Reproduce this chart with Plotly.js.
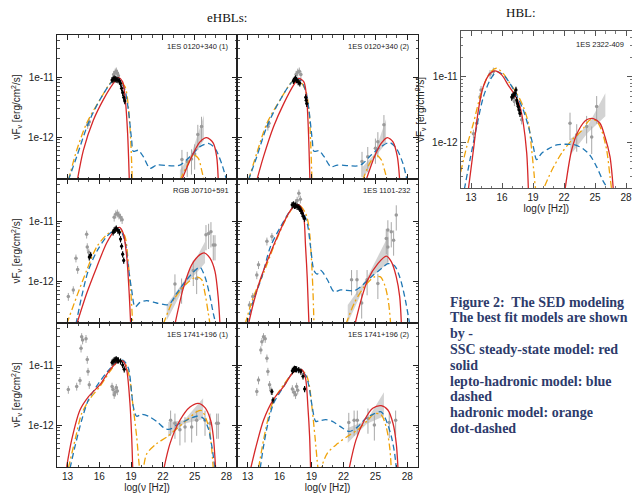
<!DOCTYPE html>
<html><head><meta charset="utf-8">
<script src="https://cdn.plot.ly/plotly-3.0.1.min.js"></script>
<style>html,body{margin:0;padding:0;background:#fff}#chart{width:632px;height:495px}</style>
</head><body><div id="chart"></div>
<script>
// ---------- ticks / labels ----------
const xTicks = [13,16,19,22,25,28];
const yTicks = [1e-12, 1e-11];
const yTickText = ["1e-12","1e-11"];
const yMinor = [2e-13,3e-13,4e-13,5e-13,6e-13,7e-13,8e-13,9e-13,2e-12,3e-12,4e-12,5e-12,6e-12,7e-12,8e-12,9e-12,2e-11,3e-11,4e-11,5e-11];
const panelNames = ["1ES 0120+340 (1)","1ES 0120+340 (2)","RGB J0710+591","1ES 1101-232","1ES 1741+196 (1)","1ES 1741+196 (2)","1ES 2322-409"];
const captionLines = ["Figure 2:  The SED modeling","The best fit models are shown","by -","SSC steady-state model: red","solid","lepto-hadronic model: blue","dashed","hadronic model: orange","dot-dashed"];

// ---------- Panel A : 1ES 0120+340 (1) ----------
const A_redX = [13.92,14.49,15.43,16.38,17.32,17.79,18.2,18.45,18.67,18.83,null,23.77,24.72,25.5,26.13,26.76,27.08,27.23];
const A_redY = [1.9e-13,6.0e-13,1.9e-12,4.2e-12,7.8e-12,9.8e-12,8.3e-12,4.2e-12,1.15e-12,1.9e-13,null,1.9e-13,4.7e-13,8.3e-13,9.8e-13,7.9e-13,4.7e-13,1.9e-13];
const A_blueX = [13.07,13.86,14.96,16.06,17.32,17.79,18.42,18.74,19.05,19.2,19.68,20.15,20.78,21.41,22.99,23.61,24.56,25.5,26.29,26.92,27.55,28.02];
const A_blueY = [1.9e-13,4.7e-13,1.7e-12,4.2e-12,8.9e-12,9.5e-12,6.0e-12,2.8e-12,8.9e-13,5.8e-13,6.0e-13,4.7e-13,3.0e-13,3.4e-13,3.3e-13,3.4e-13,4.7e-13,6.9e-13,7.8e-13,6.5e-13,3.6e-13,1.9e-13];
const A_orangeX = [13.07,13.86,14.8,16.06,17.16,17.79,18.42,18.74,18.96,19.11,null,23.61,24.24,24.87,25.35,25.66,25.88];
const A_orangeY = [1.9e-13,6.0e-13,1.7e-12,4.2e-12,8.3e-12,8.9e-12,6.9e-12,3.2e-12,8.9e-13,1.9e-13,null,1.9e-13,3.2e-13,5.0e-13,4.4e-13,2.8e-13,1.9e-13];
const A_bfX = [23.61,24.72,25.88], A_bfLo = [1.9e-13,4.4e-13,8.9e-13], A_bfHi = [2.8e-13,5.4e-13,2.3e-12];
const A_blackX = [17.2,17.3,17.4,17.5,17.6,17.75,17.9,18.0,18.1,18.2,18.3,18.4];
const A_blackY = [8.9e-12,9.2e-12,9.5e-12,9.3e-12,9.1e-12,8.9e-12,8.5e-12,7.8e-12,6.5e-12,5.5e-12,4.6e-12,4.0e-12];
const A_grayX = [14.9,15.05,17.35,17.5,17.6,17.7,17.8];
const A_grayY = [1.6e-12,1.8e-12,1.1e-11,1.2e-11,1.25e-11,1.15e-11,1.05e-11];
const A_gamX = [23.8,24.3,24.7,25.0,25.3,25.65];
const A_gamY = [4.2e-13,3.9e-13,4.3e-13,5.2e-13,1.1e-12,1.5e-12];

// ---------- Panel B : 1ES 0120+340 (2) ----------
const B_redX = [13.86,14.49,15.44,16.39,17.33,17.81,18.28,18.53,18.69,18.85,null,24.12,24.91,25.54,26.11,26.65,27.06,27.28];
const B_redY = [1.9e-13,4.7e-13,1.5e-12,3.6e-12,7.4e-12,9.5e-12,8.3e-12,4.7e-12,1.5e-12,1.9e-13,null,1.9e-13,4.7e-13,7.8e-13,9.8e-13,8.3e-13,4.7e-13,1.9e-13];
const B_blueX = [13.07,13.86,14.81,16.07,17.17,17.81,18.44,18.76,19.07,19.23,19.7,20.18,20.81,21.44,23.33,23.81,24.6,25.54,26.33,26.96,27.59,27.97];
const B_blueY = [1.9e-13,4.7e-13,1.5e-12,4.2e-12,8.3e-12,9.5e-12,6.0e-12,2.8e-12,8.9e-13,5.8e-13,5.9e-13,4.7e-13,3.2e-13,3.4e-13,3.3e-13,3.6e-13,5.0e-13,6.9e-13,8.1e-13,6.5e-13,3.6e-13,1.9e-13];
const B_orangeX = [13.07,13.86,14.81,16.07,17.17,17.81,18.44,18.76,18.91,19.04,null,23.81,24.44,25.07,25.54,25.86,26.11];
const B_orangeY = [1.9e-13,5.4e-13,1.7e-12,4.2e-12,8.3e-12,8.9e-12,6.0e-12,2.8e-12,8.9e-13,1.9e-13,null,1.9e-13,3.6e-13,5.0e-13,4.2e-13,2.8e-13,1.9e-13];
const B_bfX = [23.81,24.9,26.0], B_bfLo = [1.9e-13,4.5e-13,7.9e-13], B_bfHi = [3.2e-13,5.2e-13,2.0e-12];
const B_blackX = [17.3,17.4,17.5,17.6,17.75,17.9,18.45,18.5,18.55];
const B_blackY = [8.7e-12,9.1e-12,9.5e-12,8.9e-12,8.3e-12,7.9e-12,4.6e-12,4.1e-12,3.6e-12];
const B_grayX = [14.9,15.0,17.55,17.7,17.85,18.0];
const B_grayY = [1.5e-12,1.7e-12,1.1e-11,1.2e-11,1.25e-11,1.1e-11];
const B_gamX = [23.74,24.28,25.0,25.23,25.8];
const B_gamY = [3.9e-13,4.7e-13,6.5e-13,8.3e-13,1.6e-12];

// ---------- Panel C : RGB J0710+591 ----------
const C_redX = [13.86,14.8,15.75,16.69,17.48,17.89,18.26,18.58,18.8,18.96,null,23.14,23.93,24.72,25.5,25.91,26.45,26.92,27.23,27.39];
const C_redY = [1.9e-13,6.2e-13,1.7e-12,4.3e-12,7.1e-12,7.8e-12,6.2e-12,2.6e-12,7.1e-13,1.9e-13,null,1.9e-13,7.6e-13,1.86e-12,2.75e-12,2.95e-12,2.4e-12,1.45e-12,5.2e-13,1.9e-13];
const C_blueX = [13.79,14.33,14.96,15.75,16.69,17.48,17.95,18.42,18.74,19.05,19.37,19.84,20.47,21.41,22.36,22.67,23.3,24.25,25.04,25.5,25.98,26.45,26.76,27.01];
const C_blueY = [1.9e-13,5.5e-13,1.5e-12,3.1e-12,5.5e-12,7.2e-12,7.1e-12,4.6e-12,1.7e-12,7.1e-13,3.7e-13,4.4e-13,4.7e-13,4.3e-13,4.0e-13,4.2e-13,6.2e-13,1.05e-12,1.5e-12,1.7e-12,1.17e-12,5.5e-13,2.9e-13,1.9e-13];
const C_orangeX = [12.91,13.86,14.8,15.75,16.69,17.48,17.95,18.42,18.74,18.96,19.15,null,22.04,22.99,24.25,25.19,25.66,25.98,26.29,26.45];
const C_orangeY = [1.9e-13,5.5e-13,1.5e-12,3.7e-12,5.9e-12,7.1e-12,7.2e-12,5.5e-12,1.95e-12,7.1e-13,1.9e-13,null,1.9e-13,4.8e-13,9.1e-13,1.17e-12,1.05e-12,6.2e-13,2.9e-13,1.9e-13];
const C_bfX = [22.36,24.0,25.98], C_bfLo = [2.2e-13,7.9e-13,2.0e-12], C_bfHi = [4.0e-13,1.0e-12,4.5e-12];
const C_blackX = [15.05,15.18,17.3,17.4,17.5,17.6,17.75,17.9,18.0,18.1,18.2,18.3];
const C_blackY = [2.5e-12,2.7e-12,6.5e-12,7.0e-12,7.2e-12,7.5e-12,7.0e-12,6.5e-12,5.0e-12,3.8e-12,2.8e-12,2.2e-12];
const C_grayX = [13.07,13.54,13.79,13.95,14.8,14.86,15.0,17.4,17.55,17.7,17.85,18.0,18.15];
const C_grayY = [5.5e-13,7.1e-13,2.4e-12,1.55e-12,6.0e-12,3.7e-12,3.0e-12,1.15e-11,1.3e-11,1.35e-11,1.25e-11,1.15e-11,1.05e-11];
const C_gamX = [23.14,23.77,24.87,25.19,26.07,26.32,26.54,26.76,26.92];
const C_gamY = [8.9e-13,7.6e-13,1.5e-12,1.1e-12,5.9e-12,6.2e-12,6.6e-12,4.0e-12,4.0e-12];

// ---------- Panel D : 1ES 1101-232 ----------
const D_redX = [13.07,13.55,14.18,15.13,16.07,16.86,17.33,17.81,18.22,18.44,18.6,18.76,null,23.08,23.65,24.28,25.23,26.02,26.49,26.96,27.28,27.44];
const D_redY = [1.9e-13,4.3e-13,1.05e-12,2.9e-12,7.1e-12,1.35e-11,1.74e-11,1.86e-11,1.35e-11,3.7e-12,1.1e-12,1.9e-13,null,1.9e-13,4.8e-13,1.05e-12,1.95e-12,2.6e-12,2.1e-12,1.17e-12,5.5e-13,1.9e-13];
const D_blueX = [12.92,13.55,14.34,15.13,16.07,17.02,17.49,18.12,18.6,18.91,19.23,19.54,19.86,20.49,21.12,21.75,23.02,23.65,24.6,25.54,26.17,26.8,27.28,27.75,28.22];
const D_blueY = [1.9e-13,4.8e-13,1.17e-12,3.7e-12,7.9e-12,1.5e-11,1.78e-11,1.5e-11,9.1e-12,3.7e-12,1.5e-12,1.3e-12,1.5e-12,1.05e-12,6.6e-13,7.1e-13,6.9e-13,8.1e-13,1.17e-12,1.6e-12,1.95e-12,1.8e-12,1.17e-12,5.5e-13,1.9e-13];
const D_orangeX = [12.76,13.55,14.49,15.44,16.39,17.33,17.81,18.44,18.76,18.98,19.13,19.23,null,22.23,23.02,23.97,24.91,25.48,25.92,26.24,26.43];
const D_orangeY = [1.9e-13,5.5e-13,1.35e-12,3.7e-12,9.1e-12,1.74e-11,1.86e-11,1.35e-11,7.9e-12,2.5e-12,7.1e-13,1.9e-13,null,1.9e-13,4.3e-13,8.1e-13,1.17e-12,1.17e-12,8.1e-13,4.3e-13,1.9e-13];
const D_bfX = [22.4,24.2,26.2], D_bfLo = [2.0e-13,1.0e-12,2.0e-12], D_bfHi = [4.0e-13,1.12e-12,5.6e-12];
const D_blackX = [17.18,17.3,17.4,17.5,17.65,17.8,17.9,18.0,18.12,18.22,18.34];
const D_blackY = [1.86e-11,1.9e-11,1.8e-11,1.82e-11,1.74e-11,1.7e-11,1.6e-11,1.5e-11,1.35e-11,1.2e-11,1.1e-11];
const D_grayX = [13.17,13.48,13.86,14.02,14.81,15.28,17.5,17.65,17.81,17.95];
const D_grayY = [4.0e-13,5.5e-13,1.26e-12,1.86e-12,4.6e-12,5.5e-12,2.0e-11,2.2e-11,2.9e-11,2.3e-11];
const D_gamX = [22.76,23.27,23.71,24.22,25.23,26.02,26.17,26.17,26.49,26.71,26.96];
const D_gamY = [1.05e-12,1.05e-12,4.3e-13,1.05e-12,9.1e-13,5.1e-12,7.1e-12,3.7e-12,6.6e-12,4.8e-12,1.26e-11];

// ---------- Panel E : 1ES 1741+196 (1) ----------
const E_redX = [12.91,13.38,14.17,14.96,16.06,17.0,17.79,18.26,18.58,18.89,19.05,19.15,null,22.1,22.67,23.61,24.56,25.35,25.98,26.51,26.76,26.98];
const E_redY = [2.0e-13,5.6e-13,1.78e-12,2.95e-12,4.7e-12,8.3e-12,1.15e-11,1.15e-11,8.3e-12,2.3e-12,6.5e-13,1.9e-13,null,1.9e-13,4.9e-13,1.2e-12,2.0e-12,2.3e-12,1.95e-12,1.2e-12,6.5e-13,1.9e-13];
const E_blueX = [13.23,13.7,14.33,14.96,15.91,17.0,17.79,18.26,18.74,19.05,19.21,19.52,20.0,20.62,21.41,22.2,22.67,23.3,24.24,25.19,25.82,26.29,26.6,26.92];
const E_blueY = [1.9e-13,4.4e-13,1.2e-12,2.6e-12,4.9e-12,8.7e-12,1.15e-11,1.2e-11,8.9e-12,3.4e-12,2.0e-12,1.4e-12,1.5e-12,1.4e-12,1.15e-12,8.7e-13,8.5e-13,1.0e-12,1.2e-12,1.4e-12,1.3e-12,8.7e-13,4.7e-13,1.9e-13];
const E_orangeX = [13.07,13.7,14.33,15.12,16.06,17.0,17.79,18.33,18.83,19.15,19.52,19.8,19.95,20.15,20.47,21.41,22.36,23.3,24.24,25.19,25.66,26.13,26.45,26.76];
const E_orangeY = [1.9e-13,5.6e-13,1.55e-12,2.75e-12,4.4e-12,7.8e-12,1.15e-11,1.15e-11,6.5e-12,2.3e-12,6.5e-13,1.9e-13,1.4e-13,1.9e-13,3.3e-13,4.9e-13,6.3e-13,8.7e-13,1.2e-12,1.66e-12,1.74e-12,1.2e-12,7.2e-13,1.9e-13];
const E_bfX = [22.5,24.0,25.8], E_bfLo = [6.3e-13,1.05e-12,1.26e-12], E_bfHi = [1.12e-12,1.2e-12,2.8e-12];
const E_blackX = [17.2,17.3,17.4,17.5,17.6,17.7,17.8,18.0,18.2,18.35];
const E_blackY = [1.1e-11,1.15e-11,1.2e-11,1.22e-11,1.25e-11,1.2e-11,1.2e-11,1.15e-11,1.0e-11,8.5e-12];
const E_grayX = [13.07,13.86,14.17,14.27,14.33,14.42,14.74,14.86,14.93,15.05,17.2,17.3,17.4,17.5,17.6,17.7];
const E_grayY = [3.9e-12,4.4e-12,5.5e-12,1.9e-11,2.95e-11,2.6e-11,2.75e-11,1.23e-11,7.8e-12,4.7e-12,4.4e-12,3.9e-12,3.2e-12,3.5e-12,4.2e-12,3.7e-12];
const E_gamX = [22.73,23.14,23.61,24.09,24.72,25.19,25.98,26.45,27.08,27.23];
const E_gamY = [1.2e-12,1.07e-12,8.3e-13,9.3e-13,9.3e-13,1.2e-12,1.2e-12,1.07e-12,1.07e-12,1.07e-12];

// ---------- Panel F : 1ES 1741+196 (2) ----------
const F_redX = [13.29,13.86,14.49,15.38,16.39,17.18,17.65,18.12,18.44,18.66,18.82,18.91,null,22.54,23.17,23.96,24.75,25.54,26.17,26.65,26.96,27.12];
const F_redY = [1.9e-13,4.9e-13,1.2e-12,2.6e-12,4.4e-12,7.2e-12,8.3e-12,8.3e-12,6.0e-12,2.0e-12,6.5e-13,1.9e-13,null,1.9e-13,5.6e-13,1.2e-12,1.9e-12,2.1e-12,1.78e-12,1.07e-12,4.9e-13,1.9e-13];
const F_blueX = [14.18,14.49,14.97,15.44,16.39,17.18,17.81,18.44,18.76,19.07,19.39,19.7,20.33,20.96,21.75,22.54,23.33,24.12,24.91,25.54,26.01,26.49,26.8,26.96];
const F_blueY = [1.9e-13,4.4e-13,1.2e-12,2.3e-12,4.4e-12,7.2e-12,8.1e-12,6.8e-12,4.4e-12,2.0e-12,1.15e-12,1.17e-12,1.23e-12,1.15e-12,9.3e-13,7.8e-13,9.3e-13,1.3e-12,1.55e-12,1.66e-12,1.2e-12,6.5e-13,3.4e-13,1.9e-13];
const F_orangeX = [14.02,14.49,14.97,15.44,16.39,17.18,17.81,18.44,18.76,19.07,19.32,19.61,19.75,19.9,20.49,21.44,22.39,23.33,24.28,24.91,25.54,26.01,26.33,26.49];
const F_orangeY = [1.9e-13,5.6e-13,1.4e-12,2.6e-12,4.7e-12,7.2e-12,8.3e-12,7.2e-12,4.9e-12,1.78e-12,6.5e-13,1.9e-13,1.4e-13,1.9e-13,3.4e-13,4.9e-13,6.5e-13,8.3e-13,1.2e-12,1.55e-12,1.48e-12,9.3e-13,4.4e-13,1.9e-13];
const F_bfX = [22.4,24.2,25.8], F_bfLo = [5.0e-13,1.05e-12,1.4e-12], F_bfHi = [8.9e-13,1.2e-12,3.5e-12];
const F_blackX = [15.28,15.38,17.2,17.3,17.4,17.5,17.6,17.8,18.0,18.2,18.35];
const F_blackY = [3.6e-12,2.6e-12,8.0e-12,8.4e-12,8.7e-12,8.6e-12,8.5e-12,8.3e-12,7.8e-12,6.5e-12,4.0e-12];
const F_grayX = [13.86,14.02,14.24,14.34,14.49,14.65,14.81,14.9,15.06,15.19,17.2,17.35,17.5,17.6,17.7];
const F_grayY = [3.6e-12,5.6e-12,1.78e-11,2.45e-11,2.95e-11,2.75e-11,1.3e-11,7.8e-12,4.7e-12,3.8e-12,4.0e-12,3.5e-12,3.2e-12,4.4e-12,3.8e-12];
const F_gamX = [22.5,23.0,23.3,24.3,24.9,26.3,26.9];
const F_gamY = [1.1e-12,1.2e-12,1.2e-12,1.3e-12,1.0e-12,1.1e-12,1.2e-12];

// ---------- Panel G : 1ES 2322-409 (HBL) ----------
const G_redX = [12.74,13.23,13.71,14.19,14.84,15.32,15.97,16.61,17.26,17.74,18.06,18.39,18.55,null,22.1,22.74,23.39,24.19,24.84,25.48,25.97,26.45,26.77];
const G_redY = [1.9e-13,7.6e-13,3.1e-12,7.1e-12,1.12e-11,1.23e-11,1.07e-11,7.4e-12,5.2e-12,3.5e-12,1.95e-12,6.8e-13,1.9e-13,null,1.9e-13,7.6e-13,1.5e-12,2.2e-12,2.3e-12,1.95e-12,1.2e-12,6.0e-13,1.9e-13];
const G_blueX = [12.35,12.9,13.55,14.19,14.84,15.48,16.13,16.77,17.42,18.06,18.55,19.03,19.35,19.84,20.48,21.29,22.1,23.06,23.87,24.52,25.16,25.81,26.29];
const G_blueY = [1.9e-13,5.4e-13,1.74e-12,4.9e-12,8.9e-12,1.2e-11,1.07e-11,7.9e-12,5.2e-12,3.1e-12,1.74e-12,8.5e-13,5.4e-13,6.8e-13,7.9e-13,9.1e-13,9.3e-13,9.1e-13,7.9e-13,6.3e-13,4.2e-13,2.5e-13,1.9e-13];
const G_orangeX = [12.0,12.58,13.23,13.87,14.52,15.0,15.48,16.13,16.77,17.42,18.06,18.55,18.87,19.1,19.26,19.6,20.0,20.81,21.77,22.74,23.71,24.52,25.16,25.65,26.13,26.45,26.61];
const G_orangeY = [3.5e-13,8.5e-13,1.95e-12,4.9e-12,9.5e-12,1.23e-11,1.35e-11,1.12e-11,7.9e-12,5.6e-12,3.5e-12,1.95e-12,7.6e-13,3.3e-13,1.9e-13,1.3e-13,1.9e-13,3.7e-13,6.8e-13,1.07e-12,1.5e-12,2.2e-12,2.1e-12,1.5e-12,7.6e-13,3.0e-13,1.9e-13];
const G_bfX = [22.6,24.3,26.0], G_bfLo = [6.3e-13,1.4e-12,2.5e-12], G_bfHi = [1.12e-12,1.78e-12,5.6e-12];
const G_blackX = [16.94,17.05,17.15,17.26,17.35,17.42,17.5,17.58,17.66,17.74];
const G_blackY = [4.9e-12,5.1e-12,5.3e-12,5.6e-12,6.3e-12,4.4e-12,3.9e-12,3.5e-12,3.1e-12,2.75e-12];
const G_grayX = [13.23,13.55,13.87,13.97,14.84,15.16,17.2,17.5,17.9];
const G_grayY = [1.35e-12,1.95e-12,4.9e-12,6.3e-12,1.1e-11,1.2e-11,4.2e-12,3.6e-12,2.2e-12];
const G_gamX = [22.58,23.23,24.19,24.68,25.16];
const G_gamY = [1.95e-12,1.3e-12,1.74e-12,1.2e-12,3.5e-12];

// ---------- build ----------
const panelData = [
  [A_redX,A_redY,A_blueX,A_blueY,A_orangeX,A_orangeY,A_bfX,A_bfLo,A_bfHi,A_blackX,A_blackY,A_grayX,A_grayY,A_gamX,A_gamY],
  [B_redX,B_redY,B_blueX,B_blueY,B_orangeX,B_orangeY,B_bfX,B_bfLo,B_bfHi,B_blackX,B_blackY,B_grayX,B_grayY,B_gamX,B_gamY],
  [C_redX,C_redY,C_blueX,C_blueY,C_orangeX,C_orangeY,C_bfX,C_bfLo,C_bfHi,C_blackX,C_blackY,C_grayX,C_grayY,C_gamX,C_gamY],
  [D_redX,D_redY,D_blueX,D_blueY,D_orangeX,D_orangeY,D_bfX,D_bfLo,D_bfHi,D_blackX,D_blackY,D_grayX,D_grayY,D_gamX,D_gamY],
  [E_redX,E_redY,E_blueX,E_blueY,E_orangeX,E_orangeY,E_bfX,E_bfLo,E_bfHi,E_blackX,E_blackY,E_grayX,E_grayY,E_gamX,E_gamY],
  [F_redX,F_redY,F_blueX,F_blueY,F_orangeX,F_orangeY,F_bfX,F_bfLo,F_bfHi,F_blackX,F_blackY,F_grayX,F_grayY,F_gamX,F_gamY],
  [G_redX,G_redY,G_blueX,G_blueY,G_orangeX,G_orangeY,G_bfX,G_bfLo,G_bfHi,G_blackX,G_blackY,G_grayX,G_grayY,G_gamX,G_gamY]
];

const W = 632, H = 495;
// pixel boxes [left, right, top, bottom]
const boxes = [[57,237,35,179],[237,418,35,179],[57,237,179,323],[237,418,179,323],[57,237,323,467],[237,418,323,467],[460.7,632,31,188]];
const xRanges = [[12,29],[12,29],[12,29],[12,29],[12,29],[12,29],[12,28.58]];
const RED = '#d62728', BLUE = '#1f77b4', ORANGE = '#f0a30a';
const traces = [];
const layout = {width:W, height:H, margin:{l:0,r:0,t:0,b:0}, paper_bgcolor:'#fff', plot_bgcolor:'#fff', showlegend:false, annotations:[]};
const tickFont = {family:'Liberation Sans, Arial, sans-serif', size:10, color:'#222'};

panelData.forEach((d, i) => {
  const n = i + 1, sx = n === 1 ? '' : String(n);
  const xa = 'x' + sx, ya = 'y' + sx;
  const [rx,ry,bx,by,ox,oy,fx,flo,fhi,kx,ky,gx,gy,mx,my] = d;
  traces.push({x:[fx[0],fx[1],fx[2],fx[2],fx[1],fx[0]], y:[flo[0],flo[1],flo[2],fhi[2],fhi[1],fhi[0]], xaxis:xa, yaxis:ya, type:'scatter', mode:'lines', fill:'toself', fillcolor:'rgba(175,175,175,0.55)', line:{width:0}, hoverinfo:'skip'});
  traces.push({x:gx, y:gy, xaxis:xa, yaxis:ya, type:'scatter', mode:'markers', marker:{color:'#9a9a9a', size:3.5}, error_y:{type:'percent', value:15, color:'#a8a8a8', thickness:1, width:0}});
  traces.push({x:mx, y:my, xaxis:xa, yaxis:ya, type:'scatter', mode:'markers', marker:{color:'#9a9a9a', size:3.5}, error_y:{type:'percent', value:45, color:'#a8a8a8', thickness:1, width:0}});
  traces.push({x:ox, y:oy, xaxis:xa, yaxis:ya, type:'scatter', mode:'lines', line:{color:ORANGE, width:1.3, dash:'7px,3px,2px,3px', shape:'spline', smoothing:0.8}});
  traces.push({x:bx, y:by, xaxis:xa, yaxis:ya, type:'scatter', mode:'lines', line:{color:BLUE, width:1.3, dash:'6px,3.5px', shape:'spline', smoothing:0.8}});
  traces.push({x:rx, y:ry, xaxis:xa, yaxis:ya, type:'scatter', mode:'lines', line:{color:RED, width:1.3, shape:'spline', smoothing:0.8}});
  traces.push({x:kx, y:ky, xaxis:xa, yaxis:ya, type:'scatter', mode:'markers', marker:{color:'#000', size:3.2}, error_y:{type:'percent', value:12, color:'#000', thickness:1.2, width:0}});

  const b = boxes[i];
  const hbl = (i === 6);
  const leftCol = hbl || (i % 2 === 0);
  const bottom = hbl || i >= 4;
  const frame = hbl ? '#555' : '#222';
  const xaxis = {
    domain:[b[0]/W, b[1]/W], range:xRanges[i], anchor:ya,
    tickmode:'array', tickvals:xTicks, ticks:'inside', ticklen:5, tickwidth:1, tickcolor:frame,
    minor:{tickmode:'linear', tick0:12, dtick:1, ticks:'inside', ticklen:2.5, tickwidth:0.8, tickcolor:frame, showgrid:false},
    showline:true, linecolor:frame, linewidth:hbl ? 1 : 1.4, mirror:'allticks',
    showgrid:false, zeroline:false, showticklabels:bottom, tickfont:tickFont, ticklabeloverflow:'allow'
  };
  if (bottom) xaxis.title = {text:'log(ν [Hz])', font:{family:'Liberation Sans, Arial, sans-serif', size:10, color:'#222'}, standoff:1};
  const yaxis = {
    domain:[1 - b[3]/H, 1 - b[2]/H], type:'log', range:[-12.7,-10.3], anchor:xa,
    tickmode:'array', tickvals:yTicks, ticktext:yTickText, ticks:'inside', ticklen:5, tickwidth:1, tickcolor:frame,
    minor:{tickmode:'array', tickvals:yMinor, ticks:'inside', ticklen:2.5, tickwidth:0.8, tickcolor:frame, showgrid:false},
    showline:true, linecolor:frame, linewidth:hbl ? 1 : 1.4, mirror:'allticks',
    showgrid:false, zeroline:false, showticklabels:leftCol, tickfont:tickFont
  };
  if (leftCol) yaxis.title = {text:'νF<sub>ν</sub> [erg/cm<sup>2</sup>/s]', font:{family:'Liberation Sans, Arial, sans-serif', size:10, color:'#222'}, standoff:5};
  layout['xaxis' + sx] = xaxis;
  layout['yaxis' + sx] = yaxis;
  layout.annotations.push({xref:xa + ' domain', yref:ya + ' domain', x:0.965, y:hbl ? 0.915 : 0.922, xanchor:'right', yanchor:'middle', showarrow:false, text:panelNames[i], font:{family:'Liberation Sans, Arial, sans-serif', size:7.5, color:'#222'}});
});

layout.annotations.push({xref:'paper', yref:'paper', x:227/W, y:1-17/H, xanchor:'center', yanchor:'middle', showarrow:false, text:'eHBLs:', font:{family:'Liberation Serif, serif', size:13, color:'#111'}});
layout.annotations.push({xref:'paper', yref:'paper', x:521/W, y:1-13/H, xanchor:'center', yanchor:'middle', showarrow:false, text:'HBL:', font:{family:'Liberation Serif, serif', size:13, color:'#111'}});
captionLines.forEach((t, k) => {
  layout.annotations.push({xref:'paper', yref:'paper', x:448/W, y:1-(302 + 15.8*k)/H, xanchor:'left', yanchor:'middle', showarrow:false, text:'<b>' + t + '</b>', font:{family:'Liberation Serif, serif', size:14, color:'#2d3b6b'}});
});

Plotly.newPlot('chart', traces, layout, {staticPlot:true, displayModeBar:false});
</script>
</body></html>
